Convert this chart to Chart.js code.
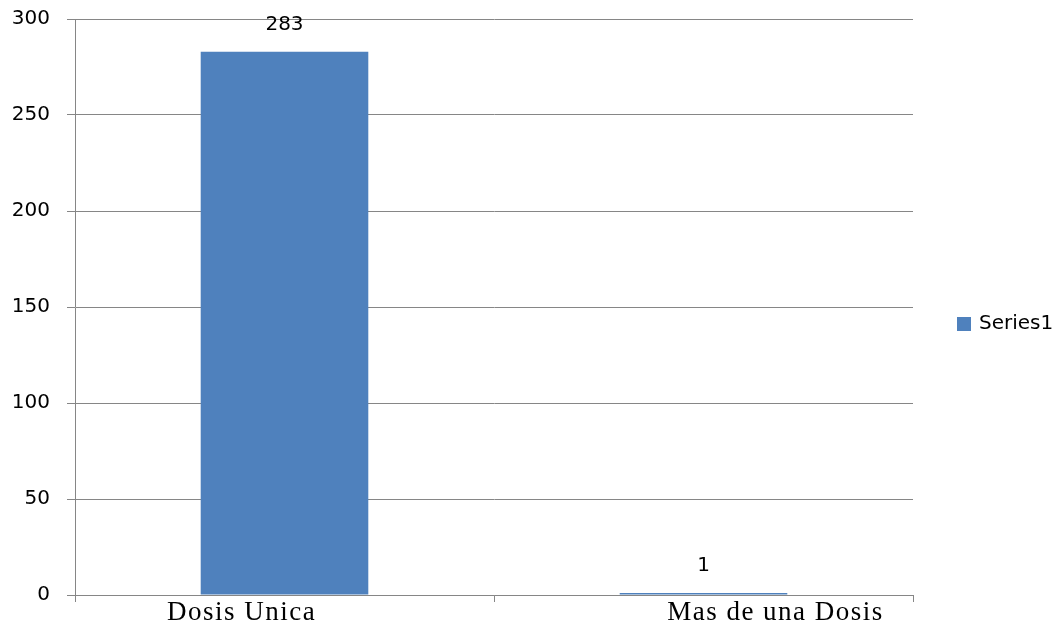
<!DOCTYPE html>
<html>
<head>
<meta charset="utf-8">
<script src="https://cdn.jsdelivr.net/npm/chart.js@4"></script>
<style>
  html, body { margin: 0; padding: 0; background: #fff; }
  #wrap { width: 1059px; height: 632px; position: relative; }
</style>
</head>
<body>
<div id="wrap"><canvas id="chartJSContainer"></canvas></div>
<script>
var categories = ['Dosis Unica', 'Mas de una Dosis'];
var seriesName = 'Series1';
var seriesValues = [283, 1];
var yTicks = [0, 50, 100, 150, 200, 250, 300];

var barColor = '#4F81BD';
var gridColor = '#868686';

// value labels above bars
var valueLabels = {
    id: 'valueLabels',
    afterDatasetsDraw: function (chart) {
        var ctx = chart.ctx;
        var meta = chart.getDatasetMeta(0);
        ctx.save();
        ctx.font = '20px "DejaVu Sans"';
        ctx.fillStyle = '#000';
        ctx.textAlign = 'center';
        ctx.textBaseline = 'middle';
        meta.data.forEach(function (bar, i) {
            ctx.fillText(String(chart.data.datasets[0].data[i]), bar.x, bar.y - 27);
        });
        ctx.restore();
    }
};

// category labels (serif, shifted like the original)
var labelShift = [-43, 72];
var categoryLabels = {
    id: 'categoryLabels',
    afterDraw: function (chart) {
        var ctx = chart.ctx;
        var xs = chart.scales.x;
        ctx.save();
        ctx.font = '27px "Liberation Serif"';
        ctx.letterSpacing = '1.5px';
        ctx.fillStyle = '#000';
        ctx.textAlign = 'center';
        ctx.textBaseline = 'alphabetic';
        chart.data.labels.forEach(function (lab, i) {
            ctx.fillText(lab, xs.getPixelForTick(i) + labelShift[i], 620);
        });
        ctx.restore();
    }
};

// legend on the right
var sideLegend = {
    id: 'sideLegend',
    afterDraw: function (chart) {
        var ctx = chart.ctx;
        var ds = chart.data.datasets[0];
        ctx.save();
        ctx.fillStyle = ds.backgroundColor;
        ctx.fillRect(957, 317, 14, 14);
        ctx.font = '20px "DejaVu Sans"';
        ctx.fillStyle = '#000';
        ctx.textAlign = 'left';
        ctx.textBaseline = 'middle';
        ctx.fillText(ds.label, 979, 324);
        ctx.restore();
    }
};

var options = {
    type: 'bar',
    data: {
        labels: categories,
        datasets: [
            {
                label: seriesName,
                data: seriesValues,
                backgroundColor: barColor,
                borderWidth: 0,
                categoryPercentage: 0.4,
                barPercentage: 1.0
            }
        ]
    },
    options: {
        responsive: true,
        maintainAspectRatio: false,
        animation: false,
        layout: {
            padding: { top: 19, right: 146, left: 0, bottom: 0 }
        },
        plugins: {
            legend: { display: false },
            tooltip: { enabled: false }
        },
        scales: {
            x: {
                offset: true,
                grid: {
                    offset: true,
                    drawOnChartArea: false,
                    color: gridColor,
                    tickLength: 7,
                    lineWidth: 1
                },
                border: { color: gridColor, width: 1 },
                ticks: { display: false },
                afterFit: function (scale) {
                    scale.height = 37;
                    scale.paddingLeft = 0;
                    scale.paddingRight = 0;
                }
            },
            y: {
                min: 0,
                max: 300,
                afterBuildTicks: function (scale) {
                    scale.ticks = yTicks.map(function (v) { return { value: v }; });
                },
                grid: {
                    color: gridColor,
                    tickLength: 8,
                    lineWidth: 1
                },
                border: { color: gridColor, width: 1 },
                ticks: {
                    color: '#000',
                    padding: 17,
                    font: { family: 'DejaVu Sans', size: 20 }
                },
                afterFit: function (scale) {
                    scale.width = 75;
                    scale.paddingTop = 0;
                    scale.paddingBottom = 0;
                }
            }
        }
    },
    plugins: [valueLabels, categoryLabels, sideLegend]
};

var ctx = document.getElementById('chartJSContainer').getContext('2d');
new Chart(ctx, options);
</script>
</body>
</html>
